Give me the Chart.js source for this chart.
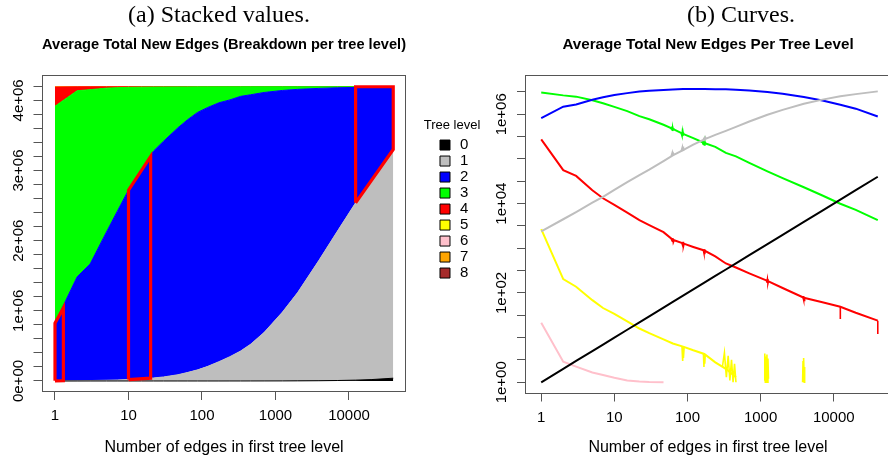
<!DOCTYPE html>
<html><head><meta charset="utf-8">
<script src="https://cdn.jsdelivr.net/npm/chart.js@4.4.1/dist/chart.umd.min.js"></script>
<style>
html,body{margin:0;padding:0;background:#fff;overflow:hidden;width:888px;height:462px;}
#wrapA{position:absolute;left:0;top:0;width:500px;height:462px;}
#wrapB{position:absolute;left:470px;top:0;width:430px;height:462px;}
.cap{position:absolute;top:0;font-family:"Liberation Serif",serif;font-size:24px;line-height:28px;color:#000;white-space:nowrap;transform:translateX(-50%);z-index:5;}
</style></head><body>
<div id="wrapA"><canvas id="cA"></canvas></div>
<div id="wrapB"><canvas id="cB"></canvas></div>
<div class="cap" style="left:219px">(a) Stacked values.</div>
<div class="cap" style="left:741px">(b) Curves.</div>
<script>
// ---------- data ----------
const edges  = [1, 2, 3, 5, 7, 10, 15, 22, 30, 47, 63, 87, 120, 170, 240, 335, 460, 700, 1240, 2000, 3900, 7000, 12300, 20000, 40000];
const level0 = [1, 2, 3, 5, 7, 10, 15, 22, 30, 47, 63, 87, 120, 170, 240, 335, 460, 700, 1240, 2000, 3900, 7000, 12300, 20000, 40000];
const level1 = [2400, 4470, 6460, 10470, 14130, 20420, 30200, 43650, 57540, 89130, 120200, 158500, 208900, 275400, 346700, 426600, 524800, 691800, 980000, 1258000, 1716000, 2133000, 2528000, 2830000, 3260000];
const level2 = [825000, 1480000, 1660000, 2110000, 2400000, 2700000, 2980000, 3236000, 3360000, 3520000, 3600000, 3670000, 3690000, 3690000, 3660000, 3630000, 3555000, 3420000, 3160000, 2897000, 2451000, 2039000, 1644000, 1337000, 890000];
const level3 = [3089000, 2653000, 2486000, 2054000, 1767000, 1465000, 1178000, 910000, 773000, 583000, 472000, 364000, 294000, 228000, 187000, 137000, 114000, 81500, 52900, 37200, 23300, 15200, 9960, 7270, 4280];
const level4 = [275400, 56230, 41690, 19950, 13180, 9333, 6310, 4266, 3311, 2291, 1549, 1288, 1072, 891, 661, 457, 372, 275, 186, 129, 78, 62, 49, 36, 24];
const level5 = [2692, 204, 138, 69, 46, 34, 23, 16, 12.6, 9.1, 7.4, 6.3, 5.2, 4.3, 2.8, 2.0, 1.3, null, null, null, null, null, null, null, null];
const level6 = [21.4, 2.88, 2.24, 1.66, 1.45, 1.26, 1.10, 1.04, 1.01, 1.0, null, null, null, null, null, null, null, null, null, null, null, null, null, null, null];
const level7 = [];
const level8 = [];

// noisy bursts seen on the curves (right panel); null separates bursts
const grayBurstX = [60, 62, 63, 64, 66, 70, 82, 85, 86, 87, 88, 90, 160, 165, 170, 175, 180];
const grayBurstY = [116000, 140000, 118000, 135000, 124000, null, 150000, 185000, 152000, 190000, 158000, 162000, null, 300000, 270000, 310000, 285000];
const greenBurstX = [58, 60, 61, 62, 63, 64, 66, 70, 82, 84, 85, 86, 87, 88, 90, 95, 160, 164, 167, 170, 173, 176, 180];
const greenBurstY = [505000, 470000, 530000, 440000, 500000, 450000, 480000, null, 375000, 330000, 400000, 340000, 390000, 350000, 365000, null, 236000, 215000, 250000, 205000, 245000, 220000, 224000];
const redBurstX = [60, 62, 63, 64, 66, 70, 84, 86, 87, 88, 90, 95, 165, 168, 170, 172, 175, 180, 1200, 1220, 1240, 1260, 1280, 1300, 3800, 3850, 3900, 3950, 4000, 5000, 12300, 12300, 20000, 40000, 40000];
const redBurstY = [1600, 1450, 1700, 1350, 1540, null, 1300, 1150, 1400, 1100, 1280, null, 900, 780, 950, 740, 880, null, 200, 170, 205, 165, 185, null, 80, 70, 85, 68, 77, null, 49, 26, null, 24, 12];
const yellowBurstX = [84, 86, 87, 88, 90, 95, 165, 168, 170, 172, 175, 180, 300, 320, 340, 360, 380, 400, 420, 440, 460, 800, 1120, 1140, 1160, 1180, 1200, 1220, 1240, 1260, 1280, 2500, 3750, 3800, 3850, 3900, 3950, 4000];
const yellowBurstY = [6.4, 3.0, 6.3, 3.5, 6.1, null, 4.4, 2.2, 4.3, 2.6, 4.2, null, 2.2, 4.6, 1.3, 3.9, 1.1, 3.2, 1.0, 2.6, 1.0, null, 1.1, 4.4, 1.0, 3.8, 1.2, 4.2, 1.0, 3.4, 1.2, null, 1.0, 3.0, 1.1, 3.5, 1.0, 2.2];

// highlighted regions on the stacked plot (polygon outlines, data space)
const outline1X = [1, 1, 1.3, 1.3, 1];
const outline1Y = [2400, 825000, 1040000, 3100, 2400];
const outline2X = [10, 10, 20, 20, 10];
const outline2Y = [20430, 2720000, 3200000, 40000, 20430];
const outline3X = [12300, 12300, 40000, 40000, 12300];
const outline3Y = [2540000, 4194000, 4194000, 3300000, 2540000];

const levelLabels = ['0', '1', '2', '3', '4', '5', '6', '7', '8'];
const levelColors = ['#000000', '#bebebe', '#0000ff', '#00ff00', '#ff0000', '#ffff00', '#ffc0cb', '#ffa500', '#a52a2a'];
const levels = [level0, level1, level2, level3, level4, level5, level6, level7, level8];

const xTicks = [1, 10, 100, 1000, 10000];
const xTickLabels = ['1', '10', '100', '1000', '10000'];
const leftYTicks = [0, 200000, 400000, 600000, 800000, 1000000, 1200000, 1400000, 1600000, 1800000, 2000000, 2200000, 2400000, 2600000, 2800000, 3000000, 3200000, 3400000, 3600000, 3800000, 4000000, 4200000];
const leftYTickLabels = ['0e+00', '', '', '', '', '1e+06', '', '', '', '', '2e+06', '', '', '', '', '3e+06', '', '', '', '', '4e+06', ''];
const rightYTicks = [1, 3.162, 10, 31.62, 100, 316.2, 1000, 3162, 10000, 31623, 100000, 316228, 1000000, 3162278];
const rightYTickLabels = ['1e+00', '', '', '', '1e+02', '', '', '', '1e+04', '', '', '', '1e+06', ''];

const titleA = 'Average Total New Edges (Breakdown per tree level)';
const titleB = 'Average Total New Edges Per Tree Level';
const xTitle = 'Number of edges in first tree level';
const legendTitle = 'Tree level';

// ---------- styling ----------
const FAM = '"Liberation Sans", Arial, Helvetica, sans-serif';
Chart.defaults.font.family = FAM;
Chart.defaults.color = '#000';
const AXC = '#555555';

const boxPlugin = {
  id: 'rbox',
  afterDatasetsDraw(chart) {
    const {ctx, chartArea: a} = chart;
    ctx.save();
    ctx.strokeStyle = AXC;
    ctx.lineWidth = 1;
    const l = Math.round(a.left) + 0.5, t = Math.round(a.top) + 0.5;
    const r = Math.round(a.right) - 0.5, b = Math.round(a.bottom) - 0.5;
    ctx.strokeRect(l, t, r - l, b - t);
    ctx.restore();
  }
};
// legend heading (drawn above the legend items, outside the legend's clip box)
const legendTitlePlugin = {
  id: 'legendHeading',
  afterDraw(chart) {
    const lg = chart.legend;
    if (!lg) return;
    const ctx = chart.ctx;
    ctx.save();
    ctx.font = '13px ' + FAM;
    ctx.fillStyle = '#000';
    ctx.textAlign = 'center';
    ctx.textBaseline = 'middle';
    ctx.fillText(legendTitle, lg.left + 15.5, lg.top + 50);
    ctx.restore();
  }
};

function xScale(min, max, h) {
  return {
    type: 'logarithmic', min, max,
    afterBuildTicks: s => { s.ticks = xTicks.map(v => ({value: v})); },
    afterFit: s => { s.height = h; },
    ticks: {autoSkip: false, maxRotation: 0, minRotation: 0, padding: 7, font: {size: 15}, color: '#000',
            callback: (v, i) => xTickLabels[i]},
    grid: {display: true, drawOnChartArea: false, drawTicks: true, tickLength: 8, color: AXC},
    border: {display: false},
    title: {display: true, text: xTitle, font: {size: 16}, color: '#000', padding: {top: 0, bottom: 5}}
  };
}
function yTickCfg(labels) {
  return {autoSkip: false, minRotation: 90, maxRotation: 90, crossAlign: 'center', padding: -6,
          font: {size: 15}, color: '#000', callback: (v, i) => labels[i]};
}
function titleCfg(text) {
  return {display: true, text, fullSize: false, color: '#000',
          font: {size: 15.2, weight: 'bold'}, padding: {top: 35.9, bottom: 20.9}};
}

// ---------- chart (a): stacked ----------
const dsA = levels.map((vals, i) => ({
  label: levelLabels[i],
  data: vals.map((v, j) => ({x: edges[j], y: v == null ? 0 : v})),
  backgroundColor: levelColors[i],
  borderColor: levelColors[i],
  borderWidth: 1,
  pointRadius: 0,
  tension: 0,
  fill: i === 0 ? 'origin' : '-1',
  stack: 'levels',
  order: 1
}));
[[outline1X, outline1Y], [outline2X, outline2Y], [outline3X, outline3Y]].forEach(([xs, ys], k) => {
  dsA.push({
    label: 'outline' + k,
    data: xs.map((x, j) => ({x, y: ys[j]})),
    yAxisID: 'y2',
    borderColor: '#ff0000',
    borderWidth: 3.2,
    borderJoinStyle: 'miter',
    pointRadius: 0,
    fill: false,
    tension: 0,
    order: 0
  });
});

new Chart(document.getElementById('cA'), {
  type: 'line',
  data: {datasets: dsA},
  options: {
    responsive: true, maintainAspectRatio: false, animation: false, devicePixelRatio: 1,
    layout: {padding: {left: 0, right: 21.66, top: 0, bottom: 0}},
    scales: {
      x: xScale(0.6655, 59660, 70),
      y: {
        type: 'linear', stacked: true, min: -156800, max: 4361000,
        afterBuildTicks: s => { s.ticks = leftYTicks.map(v => ({value: v})); },
        afterFit: s => { s.width = 42; },
        ticks: yTickCfg(leftYTickLabels),
        grid: {display: true, drawOnChartArea: false, drawTicks: true, tickLength: 8.5, color: AXC},
        border: {display: false}
      },
      y2: {type: 'linear', display: false, min: -156800, max: 4361000},
      gap: {type: 'linear', position: 'right', display: true,
            grid: {display: false}, ticks: {display: false}, border: {display: false},
            afterFit: s => { s.width = 30.5; }}
    },
    plugins: {
      title: titleCfg(titleA),
      tooltip: {enabled: false},
      legend: {
        display: true, position: 'right', align: 'start', fullSize: false,
        labels: {
          usePointStyle: true, boxWidth: 15, boxHeight: 10, padding: 1, font: {size: 15}, color: '#000',
          generateLabels: () => levelLabels.map((t, i) => ({
            text: t, fillStyle: levelColors[i], strokeStyle: '#000', lineWidth: 1,
            pointStyle: 'rect', hidden: false, datasetIndex: i
          }))
        },
        title: {display: true, text: '', font: {size: 14}, padding: {top: 43, bottom: 1.7}}
      }
    }
  },
  plugins: [boxPlugin, legendTitlePlugin]
});

// ---------- chart (b): curves ----------
const dsB = [];
for (let i = 0; i < 7; i++) {
  dsB.push({
    label: levelLabels[i],
    data: levels[i].map((v, j) => ({x: edges[j], y: v})),
    borderColor: levelColors[i], backgroundColor: levelColors[i],
    borderWidth: 2, pointRadius: 0, fill: false, tension: 0, spanGaps: false
  });
}
[[grayBurstX, grayBurstY, 1], [greenBurstX, greenBurstY, 3], [redBurstX, redBurstY, 4], [yellowBurstX, yellowBurstY, 5]]
  .forEach(([xs, ys, lvl]) => {
    dsB.push({label: levelLabels[lvl] + ' burst', data: xs.map((x, j) => ({x, y: ys[j]})),
      borderColor: levelColors[lvl], borderWidth: 1.6, pointRadius: 0, fill: false, tension: 0, spanGaps: false});
  });

new Chart(document.getElementById('cB'), {
  type: 'line',
  data: {datasets: dsB},
  options: {
    responsive: true, maintainAspectRatio: false, animation: false, devicePixelRatio: 1,
    layout: {padding: {left: 0, right: 9, top: 0, bottom: 0}},
    scales: {
      x: xScale(0.645, 60660, 68.5),
      y: {
        type: 'logarithmic', min: 0.561, max: 7570000,
        afterBuildTicks: s => { s.ticks = rightYTicks.map(v => ({value: v})); },
        afterFit: s => { s.width = 55; },
        ticks: yTickCfg(rightYTickLabels),
        grid: {display: true, drawOnChartArea: false, drawTicks: true, tickLength: 8, color: AXC},
        border: {display: false}
      }
    },
    plugins: {
      title: titleCfg(titleB),
      tooltip: {enabled: false},
      legend: {display: false}
    }
  },
  plugins: [boxPlugin]
});
</script>
</body></html>
